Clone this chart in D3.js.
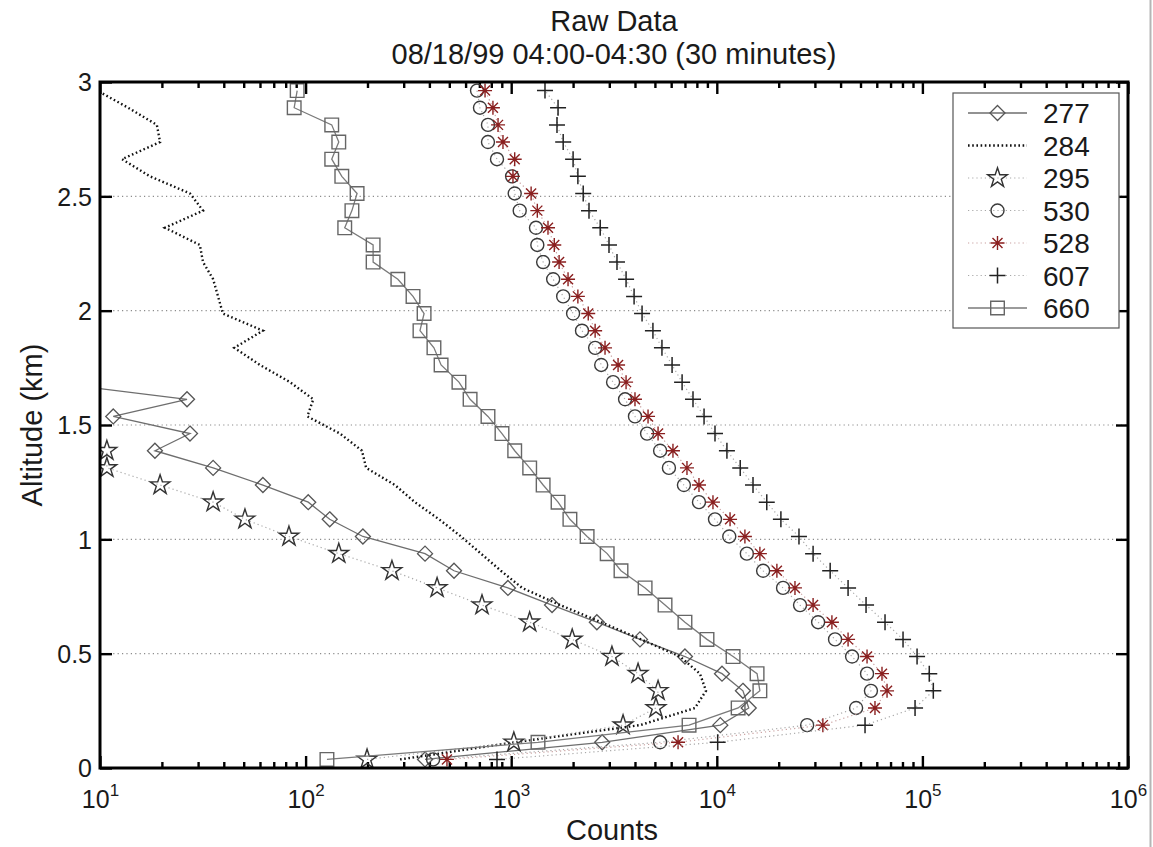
<!DOCTYPE html>
<html>
<head>
<meta charset="utf-8">
<title>Raw Data</title>
<script src="https://cdn.jsdelivr.net/npm/d3@7"></script>
<style>
  body { margin: 0; background: #fff; }
  text { font-family: "Liberation Sans", Arial, Helvetica, sans-serif; fill: #1a1a1a; }
</style>
</head>
<body>
<svg id="chart" width="1153" height="847"></svg>
<script>
// altitude of each range bin (km)
var altitude = [0.0375, 0.1125, 0.1875, 0.2625, 0.3375, 0.4125, 0.4875, 0.5625, 0.6375, 0.7125,
                0.7875, 0.8625, 0.9375, 1.0125, 1.0875, 1.1625, 1.2375, 1.3125, 1.3875, 1.4625,
                1.5375, 1.6125, 1.6875, 1.7625, 1.8375, 1.9125, 1.9875, 2.0625, 2.1375, 2.2125,
                2.2875, 2.3625, 2.4375, 2.5125, 2.5875, 2.6625, 2.7375, 2.8125, 2.8875, 2.9625];

// counts per channel (null = no valid count)
var s277 = [381, 2770, 10400, 14300, 13400, 10600, 7000, 4230, 2610, 1580,
            964, 527, 381, 190, 131, 103, 62, 35.5, 18.5, 27.4,
            11.6, 26.5, 5.5, null, null, null, null, null, null, null,
            null, null, null, null, null, null, null, null, null, null];
var s284 = [288, 1040, 4230, 7830, 8860, 8280, 6620, 4280, 2740, 1730,
            1130, 891, 713, 570, 446, 340, 272, 197, 188, 147,
            102, 109, 84, 60, 45, 62, 39.6, 37.5, 35.5, 31.7,
            30.6, 20.7, 31.7, 27.4, 17.5, 12.8, 19.6, 18.9, 13.7, 9.7];
var s295 = [199, 1030, 3500, 5060, 5180, 4140, 3090, 1980, 1230, 721,
            436, 263, 145, 83, 50.7, 35.5, 19.6, 10.8, 10.8, null,
            null, null, null, null, null, null, null, null, null, null,
            null, null, null, null, null, null, null, null, null, null];
var s530 = [417, 5300, 27500, 47600, 56200, 53800, 45500, 37600, 31100, 25400,
            21000, 16800, 14000, 11500, 9800, 8190, 6920, 5850, 5300, 4580,
            4000, 3580, 3130, 2740, 2560, 2210, 2000, 1790, 1600, 1430,
            1340, 1320, 1100, 1040, 1010, 853, 771, 771, 705, 682];
var s528 = [487, 6480, 32800, 58800, 67300, 63600, 53800, 43500, 36300, 29400,
            24000, 19600, 16200, 13700, 11600, 9580, 8190, 7160, 6120, 5180,
            4630, 4000, 3620, 3310, 2860, 2560, 2370, 2110, 1890, 1710,
            1620, 1510, 1340, 1250, 1020, 1040, 912, 863, 815, 746];
var s607 = [853, 10100, 52600, 92100, 113000, 108000, 94200, 80500, 65800, 53200,
            43500, 35600, 29400, 25100, 20500, 17500, 15000, 13000, 11200, 9800,
            8670, 7660, 6780, 6060, 5410, 4890, 4330, 3960, 3620, 3270,
            2990, 2710, 2390, 2240, 2110, 2000, 1790, 1670, 1690, 1460];
var s660 = [127, 1350, 7330, 12700, 16200, 15700, 12000, 8960, 7000, 5600,
            4480, 3420, 2930, 2340, 1930, 1690, 1430, 1230, 1040, 902,
            771, 631, 557, 456, 421, 360, 377, 333, 281, 213,
            213, 155, 168, 178, 150, 134, 145, 134, 88, 91];

var legendNames = ["277", "284", "295", "530", "528", "607", "660"];
var yTicks = [0, 0.5, 1, 1.5, 2, 2.5, 3];
var xDecades = [1e1, 1e2, 1e3, 1e4, 1e5, 1e6];
var xExponents = ["1", "2", "3", "4", "5", "6"];

// styles for each channel, same order as legendNames
var series = [
  {name: "277", values: s277, line: "#6e6e6e", dash: null, width: 1.3, marker: "diamond", mcolor: "#555"},
  {name: "284", values: s284, line: "#111", dash: "1.6,2.6", width: 2.4, marker: null, mcolor: null},
  {name: "295", values: s295, line: "#a8a8a8", dash: "1.2,3", width: 1.2, marker: "star", mcolor: "#333"},
  {name: "530", values: s530, line: "#a8a8a8", dash: "1.2,3", width: 1.2, marker: "circle", mcolor: "#3a3a3a"},
  {name: "528", values: s528, line: "#c9a0a0", dash: "1.2,3", width: 1.2, marker: "asterisk", mcolor: "#8a1f1f"},
  {name: "607", values: s607, line: "#a8a8a8", dash: "1.2,3", width: 1.2, marker: "plus", mcolor: "#222"},
  {name: "660", values: s660, line: "#7a7a7a", dash: null, width: 1.3, marker: "square", mcolor: "#666"}
];

var margin = {top: 82, right: 25, bottom: 79, left: 100},
    width = 1153 - margin.left - margin.right,
    height = 847 - margin.top - margin.bottom;

var svg = d3.select("#chart");
var g = svg.append("g").attr("transform", "translate(" + margin.left + "," + margin.top + ")");

var x = d3.scaleLog().domain([10, 1e6]).range([0, width]);
var y = d3.scaleLinear().domain([0, 3]).range([height, 0]);

// image edge line on the far right
svg.append("line")
  .attr("x1", 1150.5).attr("x2", 1150.5).attr("y1", 0).attr("y2", 847)
  .attr("stroke", "#b5b5b5").attr("stroke-width", 2);

// titles
svg.append("text").attr("x", 614).attr("y", 31).attr("text-anchor", "middle")
  .attr("font-size", 29).text("Raw Data");
svg.append("text").attr("x", 614).attr("y", 64).attr("text-anchor", "middle")
  .attr("font-size", 29).text("08/18/99 04:00-04:30 (30 minutes)");
svg.append("text").attr("x", 612).attr("y", 840).attr("text-anchor", "middle")
  .attr("font-size", 29).text("Counts");
svg.append("text").attr("transform", "translate(42,425) rotate(-90)").attr("text-anchor", "middle")
  .attr("font-size", 29).text("Altitude (km)");

// dotted horizontal grid
g.append("g").selectAll("line")
  .data(yTicks.filter(function(d) { return d > 0 && d < 3; }))
  .enter().append("line")
    .attr("x1", 0).attr("x2", width)
    .attr("y1", function(d) { return y(d); }).attr("y2", function(d) { return y(d); })
    .attr("stroke", "#8c8c8c").attr("stroke-width", 1.2).attr("stroke-dasharray", "1.2,3.2");

// axes, ticks pointing inwards on all four sides
function styleAxis(sel) {
  sel.select(".domain").remove();
  sel.selectAll(".tick line").attr("stroke", "#000").attr("stroke-width", 2.4);
  sel.selectAll("text").attr("font-family", "Liberation Sans, Arial, sans-serif").attr("fill", "#1a1a1a");
}

var minor = x.ticks().filter(function(d) { return xDecades.indexOf(d) < 0; });

var gx = g.append("g").attr("transform", "translate(0," + height + ")")
  .call(d3.axisBottom(x).tickValues(xDecades).tickSizeInner(-12).tickSizeOuter(0).tickPadding(22))
  .attr("font-size", 25);
styleAxis(gx);
gx.selectAll(".tick text").each(function(d, i) {
  var t = d3.select(this);
  t.text(null);
  t.append("tspan").text("10");
  t.append("tspan").attr("dy", "-0.72em").attr("font-size", 17).text(xExponents[i]);
});
g.append("g").attr("transform", "translate(0," + height + ")")
  .call(d3.axisBottom(x).tickValues(minor).tickSizeInner(-6).tickSizeOuter(0).tickFormat(""))
  .call(styleAxis);
g.append("g")
  .call(d3.axisTop(x).tickValues(xDecades).tickSizeInner(-12).tickSizeOuter(0).tickFormat(""))
  .call(styleAxis);
g.append("g")
  .call(d3.axisTop(x).tickValues(minor).tickSizeInner(-6).tickSizeOuter(0).tickFormat(""))
  .call(styleAxis);

var gy = g.append("g")
  .call(d3.axisLeft(y).tickValues(yTicks).tickSizeInner(-12).tickSizeOuter(0).tickPadding(8)
        .tickFormat(d3.format("~g")))
  .attr("font-size", 25);
styleAxis(gy);
gy.selectAll(".tick text").attr("dy", "0.35em");
g.append("g").attr("transform", "translate(" + width + ",0)")
  .call(d3.axisRight(y).tickValues(yTicks).tickSizeInner(-12).tickSizeOuter(0).tickFormat(""))
  .call(styleAxis);

// plot area clip
svg.append("defs").append("clipPath").attr("id", "plotclip")
  .append("rect").attr("x", 0).attr("y", 0).attr("width", width).attr("height", height);

var plot = g.append("g").attr("clip-path", "url(#plotclip)");

var line = d3.line()
  .defined(function(d) { return d.v != null; })
  .x(function(d) { return x(d.v); })
  .y(function(d) { return y(d.alt); });

function drawMarker(sel, type, color) {
  if (type === "circle") {
    sel.append("circle").attr("r", 6.5).attr("fill", "none").attr("stroke", color).attr("stroke-width", 1.4);
  } else if (type === "diamond") {
    sel.append("path").attr("d", "M0,-7.5L7.5,0L0,7.5L-7.5,0Z")
      .attr("fill", "none").attr("stroke", color).attr("stroke-width", 1.3);
  } else if (type === "square") {
    sel.append("path").attr("d", "M-6.8,-6.8H6.8V6.8H-6.8Z")
      .attr("fill", "none").attr("stroke", color).attr("stroke-width", 1.4);
  } else if (type === "star") {
    sel.append("path").attr("d", d3.symbol().type(d3.symbolStar).size(120)())
      .attr("fill", "none").attr("stroke", color).attr("stroke-width", 1.4);
  } else if (type === "plus") {
    sel.append("path").attr("d", "M-8,0H8M0,-8V8")
      .attr("fill", "none").attr("stroke", color).attr("stroke-width", 1.5);
  } else if (type === "asterisk") {
    sel.append("path").attr("d", "M-7,0H7M0,-7V7M-5,-5L5,5M-5,5L5,-5")
      .attr("fill", "none").attr("stroke", color).attr("stroke-width", 1.4);
  }
}

series.forEach(function(s) {
  var pts = altitude.map(function(a, i) { return {alt: a, v: s.values[i]}; });
  plot.append("path")
    .datum(pts)
    .attr("fill", "none")
    .attr("stroke", s.line)
    .attr("stroke-width", s.width)
    .attr("stroke-dasharray", s.dash)
    .attr("d", line);
  if (s.marker) {
    plot.append("g").selectAll("g")
      .data(pts.filter(function(d) { return d.v != null; }))
      .enter().append("g")
        .attr("transform", function(d) { return "translate(" + x(d.v) + "," + y(d.alt) + ")"; })
        .each(function() { drawMarker(d3.select(this), s.marker, s.mcolor); });
  }
});

// axes box
g.append("rect").attr("x", 0).attr("y", 0).attr("width", width).attr("height", height)
  .attr("fill", "none").attr("stroke", "#000").attr("stroke-width", 3);

// legend
var leg = svg.append("g").attr("transform", "translate(953,93)");
leg.append("rect").attr("width", 166).attr("height", 235)
  .attr("fill", "#fff").attr("stroke", "#555").attr("stroke-width", 1.2);
var rows = leg.selectAll("g.row").data(series).enter().append("g")
  .attr("class", "row")
  .attr("transform", function(d, i) { return "translate(0," + (20 + i * 32.5) + ")"; });
rows.append("line")
  .attr("x1", 15).attr("x2", 74).attr("y1", 0).attr("y2", 0)
  .attr("stroke", function(d) { return d.line; })
  .attr("stroke-width", function(d) { return d.width; })
  .attr("stroke-dasharray", function(d) { return d.dash; });
rows.each(function(d) {
  if (d.marker) {
    var m = d3.select(this).append("g").attr("transform", "translate(44.5,0)");
    drawMarker(m, d.marker, d.mcolor);
  }
});
rows.append("text").attr("x", 90).attr("dy", "0.36em").attr("font-size", 28)
  .text(function(d) { return d.name; });
</script>
</body>
</html>
